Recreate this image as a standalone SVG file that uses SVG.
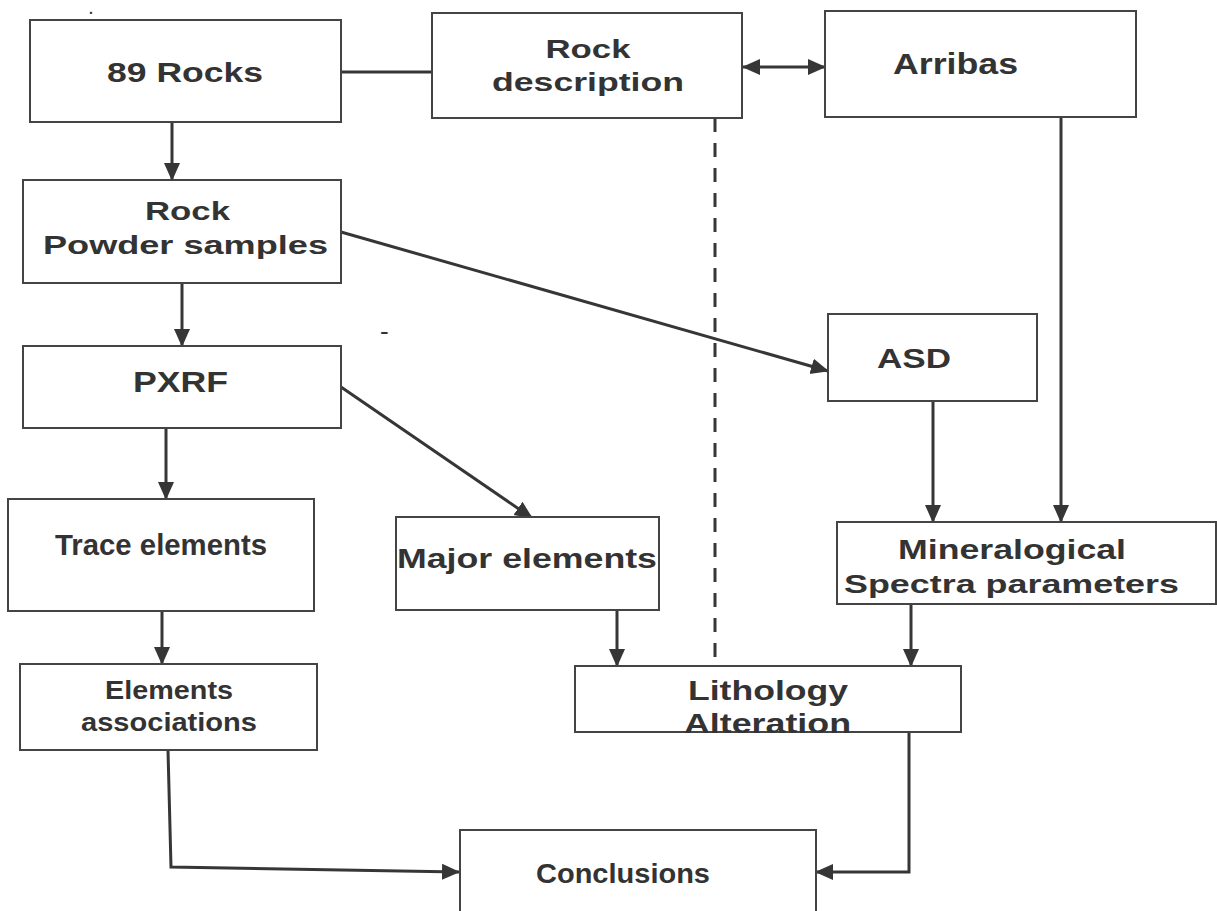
<svg xmlns="http://www.w3.org/2000/svg" width="1217" height="911" viewBox="0 0 1217 911">
<style>
.box{fill:#fff;stroke:#444;stroke-width:2}
.t{font-family:"Liberation Sans",Arial,sans-serif;font-weight:bold;fill:#333;text-anchor:middle}
.c{fill:none;stroke:#363636;stroke-width:3}
.a{marker-end:url(#ah)}
.d{stroke-dasharray:14 11}
</style>
<defs>
<marker id="ah" markerUnits="userSpaceOnUse" markerWidth="18" markerHeight="18" refX="17" refY="9" orient="auto-start-reverse">
<path d="M0,1 L18,9 L0,17 z" fill="#363636"/>
</marker>
</defs>
<rect width="1217" height="911" fill="#fff"/>
<g id="connectors">
<line class="c" x1="341" y1="72" x2="432" y2="72"/>
<line class="c a" x1="743" y1="67" x2="825" y2="67" marker-start="url(#ah)"/>
<line class="c a" x1="1061" y1="117" x2="1061" y2="522"/>
<line class="c a" x1="172" y1="122" x2="172" y2="180"/>
<line class="c a" x1="182" y1="283" x2="182" y2="346"/>
<line class="c a" x1="341" y1="232" x2="828" y2="371"/>
<line class="c a" x1="166" y1="428" x2="166" y2="499"/>
<line class="c a" x1="341" y1="387" x2="532" y2="518"/>
<line class="c a" x1="162" y1="611" x2="162" y2="664"/>
<line class="c a" x1="933" y1="401" x2="933" y2="522"/>
<line class="c d" x1="715" y1="118" x2="715" y2="666"/>
<line class="c a" x1="617" y1="610" x2="617" y2="666"/>
<line class="c a" x1="911" y1="604" x2="911" y2="666"/>
<polyline class="c a" points="168,750 171,867 459,872"/>
<polyline class="c a" points="909,732 909,872 816,872"/>
</g>
<g id="n-rocks">
<rect class="box" x="30" y="20" width="311" height="102"/>
<text class="t" x="185" y="82" font-size="28" textLength="156" lengthAdjust="spacingAndGlyphs">89 Rocks</text>
</g>
<g id="n-rockdesc">
<rect class="box" x="432" y="13" width="310" height="105"/>
<text class="t" x="588" y="58" font-size="25" textLength="85" lengthAdjust="spacingAndGlyphs">Rock</text>
<text class="t" x="588" y="91" font-size="25" textLength="192" lengthAdjust="spacingAndGlyphs">description</text>
</g>
<g id="n-arribas">
<rect class="box" x="825" y="11" width="311" height="106"/>
<text class="t" x="955.5" y="74" font-size="29" textLength="125" lengthAdjust="spacingAndGlyphs">Arribas</text>
</g>
<g id="n-powder">
<rect class="box" x="23" y="180" width="318" height="103"/>
<text class="t" x="187.5" y="220" font-size="25" textLength="85" lengthAdjust="spacingAndGlyphs">Rock</text>
<text class="t" x="185.5" y="254" font-size="25" textLength="285" lengthAdjust="spacingAndGlyphs">Powder samples</text>
</g>
<g id="n-pxrf">
<rect class="box" x="23" y="346" width="318" height="82"/>
<text class="t" x="180.5" y="392" font-size="29" textLength="95" lengthAdjust="spacingAndGlyphs">PXRF</text>
</g>
<g id="n-asd">
<rect class="box" x="828" y="314" width="209" height="87"/>
<text class="t" x="914" y="368" font-size="27" textLength="74" lengthAdjust="spacingAndGlyphs">ASD</text>
</g>
<g id="n-trace">
<rect class="box" x="8" y="499" width="306" height="112"/>
<text class="t" x="161" y="555" font-size="29" textLength="212" lengthAdjust="spacingAndGlyphs">Trace elements</text>
</g>
<g id="n-major">
<rect class="box" x="396" y="517" width="263" height="93"/>
<text class="t" x="527" y="568" font-size="28" textLength="260" lengthAdjust="spacingAndGlyphs">Major elements</text>
</g>
<g id="n-mineral">
<rect class="box" x="837" y="522" width="379" height="82"/>
<text class="t" x="1012" y="559" font-size="27" textLength="228" lengthAdjust="spacingAndGlyphs">Mineralogical</text>
<text class="t" x="1011.5" y="593" font-size="26" textLength="335" lengthAdjust="spacingAndGlyphs">Spectra parameters</text>
</g>
<g id="n-assoc">
<rect class="box" x="20" y="664" width="297" height="86"/>
<text class="t" x="169" y="699" font-size="25" textLength="128" lengthAdjust="spacingAndGlyphs">Elements</text>
<text class="t" x="169" y="731" font-size="25" textLength="176" lengthAdjust="spacingAndGlyphs">associations</text>
</g>
<g id="n-litho">
<rect class="box" x="575" y="666" width="386" height="66"/>
<text class="t" x="768" y="700" font-size="28" textLength="160" lengthAdjust="spacingAndGlyphs">Lithology</text>
<text class="t" x="767.5" y="733" font-size="28" textLength="167" lengthAdjust="spacingAndGlyphs">Alteration</text>
</g>
<g id="n-conclusions">
<rect class="box" x="460" y="830" width="356" height="100"/>
<text class="t" x="623" y="883" font-size="27" textLength="174" lengthAdjust="spacingAndGlyphs">Conclusions</text>
</g>
<g id="marks">
<text x="89" y="14" font-family="Liberation Sans, Arial, sans-serif" font-size="14" font-weight="bold" fill="#333">.</text>
<text x="380" y="340" font-family="Liberation Sans, Arial, sans-serif" font-size="26" fill="#333">-</text>
</g>
</svg>
